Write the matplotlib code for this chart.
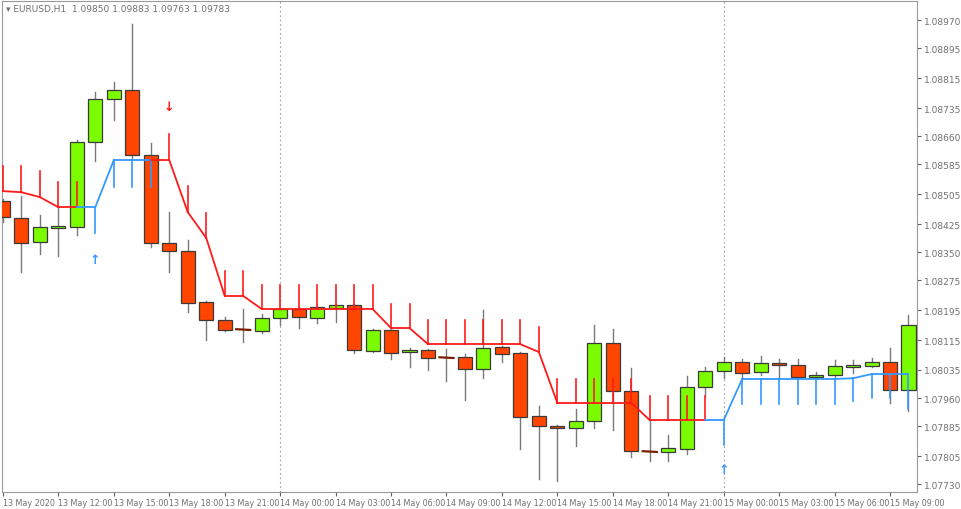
import matplotlib
matplotlib.use("Agg")
import matplotlib.pyplot as plt
import numpy as np

opens = [1.08486,1.08441,1.08377,1.08414,1.08417,1.08644,1.08759,1.08783,1.08609,1.08374,
         1.08353,1.08217,1.08168,1.08144,1.08139,1.08174,1.08198,1.08174,1.08200,1.08208,
         1.08086,1.08142,1.08083,1.08088,1.08069,1.08069,1.08037,1.08096,1.08080,1.07912,
         1.07885,1.07880,1.07899,1.08107,1.07979,1.07818,1.07816,1.07824,1.07989,1.08032,
         1.08056,1.08029,1.08054,1.08048,1.08016,1.08021,1.08043,1.08045,1.08056,1.07981]
highs = [1.08492,1.08500,1.08449,1.08470,1.08649,1.08778,1.08804,1.08959,1.08641,1.08457,
         1.08382,1.08220,1.08176,1.08198,1.08184,1.08200,1.08203,1.08206,1.08211,1.08211,
         1.08144,1.08144,1.08094,1.08091,1.08091,1.08078,1.08195,1.08099,1.08083,1.07939,
         1.07888,1.07931,1.08155,1.08144,1.08040,1.07901,1.07861,1.08019,1.08043,1.08069,
         1.08064,1.08072,1.08064,1.08064,1.08029,1.08062,1.08062,1.08067,1.08094,1.08182]
lows = [1.08430,1.08297,1.08345,1.08339,1.08395,1.08593,1.08703,1.08599,1.08363,1.08297,
        1.08190,1.08115,1.08139,1.08110,1.08134,1.08155,1.08147,1.08160,1.08163,1.08080,
        1.08083,1.08064,1.08043,1.08035,1.08005,1.07955,1.08013,1.08056,1.07824,1.07743,
        1.07738,1.07832,1.07880,1.07875,1.07802,1.07792,1.07792,1.07810,1.07965,1.08013,
        1.08011,1.08021,1.08011,1.08011,1.08011,1.08011,1.08027,1.08043,1.07947,1.07925]
closes = [1.08444,1.08374,1.08417,1.08420,1.08644,1.08759,1.08783,1.08609,1.08374,1.08353,
          1.08214,1.08168,1.08142,1.08142,1.08174,1.08198,1.08176,1.08203,1.08208,1.08088,
          1.08142,1.08080,1.08088,1.08067,1.08067,1.08037,1.08094,1.08078,1.07909,1.07885,
          1.07880,1.07899,1.08107,1.07979,1.07818,1.07816,1.07826,1.07989,1.08032,1.08056,
          1.08027,1.08054,1.08048,1.08016,1.08021,1.08045,1.08048,1.08056,1.07981,1.08155]

trail = [1.08513,1.08510,1.08497,1.08470,1.08470,1.08470,1.08596,1.08596,1.08596,1.08596,
         1.08457,1.08388,1.08233,1.08233,1.08198,1.08198,1.08198,1.08198,1.08198,1.08198,
         1.08198,1.08147,1.08147,1.08104,1.08104,1.08104,1.08104,1.08104,1.08104,1.08083,
         1.07947,1.07947,1.07947,1.07947,1.07947,1.07901,1.07901,1.07901,1.07901,1.07901,
         1.08011,1.08011,1.08011,1.08011,1.08011,1.08011,1.08013,1.08024,1.08024,1.08024]
spike = [1.08580,1.08580,1.08567,1.08537,1.08537,1.08401,1.08524,1.08524,1.08524,1.08665,
         1.08526,1.08454,1.08299,1.08299,1.08262,1.08262,1.08262,1.08262,1.08262,1.08262,
         1.08262,1.08211,1.08211,1.08168,1.08168,1.08168,1.08168,1.08168,1.08168,1.08150,
         1.08011,1.08011,1.08011,1.08011,1.08011,1.07965,1.07965,1.07965,1.07965,1.07834,
         1.07944,1.07944,1.07944,1.07944,1.07944,1.07944,1.07952,1.07960,1.07960,1.07931]
trend_up = [0,0,0,0,0,1,1,1,1,0, 0,0,0,0,0,0,0,0,0,0, 0,0,0,0,0,0,0,0,0,0,
            0,0,0,0,0,0,0,0,0,1, 1,1,1,1,1,1,1,1,1,1]
arrow_idx = [5, 9, 39]
arrow_price = [1.08331, 1.08738, 1.07768]
arrow_up = [True, False, True]

yticks = [1.08970,1.08895,1.08815,1.08735,1.08660,1.08585,1.08505,1.08425,1.08350,
          1.08275,1.08195,1.08115,1.08035,1.07960,1.07885,1.07805,1.07730]
xtick_idx = [0,3,6,9,12,15,18,21,24,27,30,33,36,39,42,45,48]
xtick_labels = ["13 May 2020","13 May 12:00","13 May 15:00","13 May 18:00","13 May 21:00",
                "14 May 00:00","14 May 03:00","14 May 06:00","14 May 09:00","14 May 12:00",
                "14 May 15:00","14 May 18:00","14 May 21:00","15 May 00:00","15 May 03:00",
                "15 May 06:00","15 May 09:00"]
day_sep = [15, 39]

UP = "#7CFC00"; DN = "#FF4500"; RED = "#FF1A1A"; BLUE = "#3399FF"; WICK = "#7a7a7a"

fig = plt.figure(figsize=(9.61, 5.10), dpi=100)
ax = fig.add_axes([2/961, 17/510, 915/961, 491/510])
n = len(opens)
w = 0.38
for i in range(n):
    o, h, l, c = opens[i], highs[i], lows[i], closes[i]
    ax.plot([i, i], [l, h], color=WICK, lw=1.0, zorder=2)
    up = c >= o
    fc = UP if up else DN
    ec = "#3a3a3a"
    lo, hi = min(o, c), max(o, c)
    if hi - lo < 0.00003:
        ax.plot([i - w, i + w], [o, c], color="#3d6b10" if up else "#7a2000", lw=1.6, zorder=3)
    else:
        ax.add_patch(plt.Rectangle((i - w, lo), 2 * w, hi - lo, facecolor=fc, edgecolor=ec, lw=0.9, zorder=3))

for i in range(n):
    col = BLUE if trend_up[i] else RED
    ax.plot([i, i], [trail[i], spike[i]], color=col, lw=1.2, zorder=4)
    if i < n - 1:
        c2 = BLUE if trend_up[i + 1] else RED
        ax.plot([i, i + 1], [trail[i], trail[i + 1]], color=c2, lw=1.3, zorder=4)

for i, p, u in zip(arrow_idx, arrow_price, arrow_up):
    ax.text(i, p, "\u2191" if u else "\u2193", color=BLUE if u else RED, fontsize=9,
            fontweight="bold", ha="center", va="center", zorder=5)

for d in day_sep:
    ax.axvline(d, color="#a0a0a0", lw=0.8, ls=(0, (1.5, 2.5)), zorder=1)

ax.set_xlim(-0.05, 49.46)
ax.set_ylim(1.07709, 1.09021)
ax.yaxis.tick_right()
ax.set_yticks(yticks)
ax.set_yticklabels([f"{v:.5f}" for v in yticks])
ax.set_xticks(xtick_idx)
ax.set_xticklabels(xtick_labels, ha="left")
ax.tick_params(axis="both", labelsize=6.5, colors="#606060", length=3, width=0.8, direction="out", pad=2)
ax.tick_params(axis="x", labelsize=5.8, pad=1.5)
for lab in ax.get_yticklabels() + ax.get_xticklabels():
    lab.set_color("#707070")
for sp in ax.spines.values():
    sp.set_color("#9a9a9a"); sp.set_linewidth(0.8)

ax.text(0.004, 0.994, "\u25be EURUSD,H1  1.09850 1.09883 1.09763 1.09783", transform=ax.transAxes,
        fontsize=6.5, color="#707070", ha="left", va="top")

fig.savefig("out.png", dpi=100)
